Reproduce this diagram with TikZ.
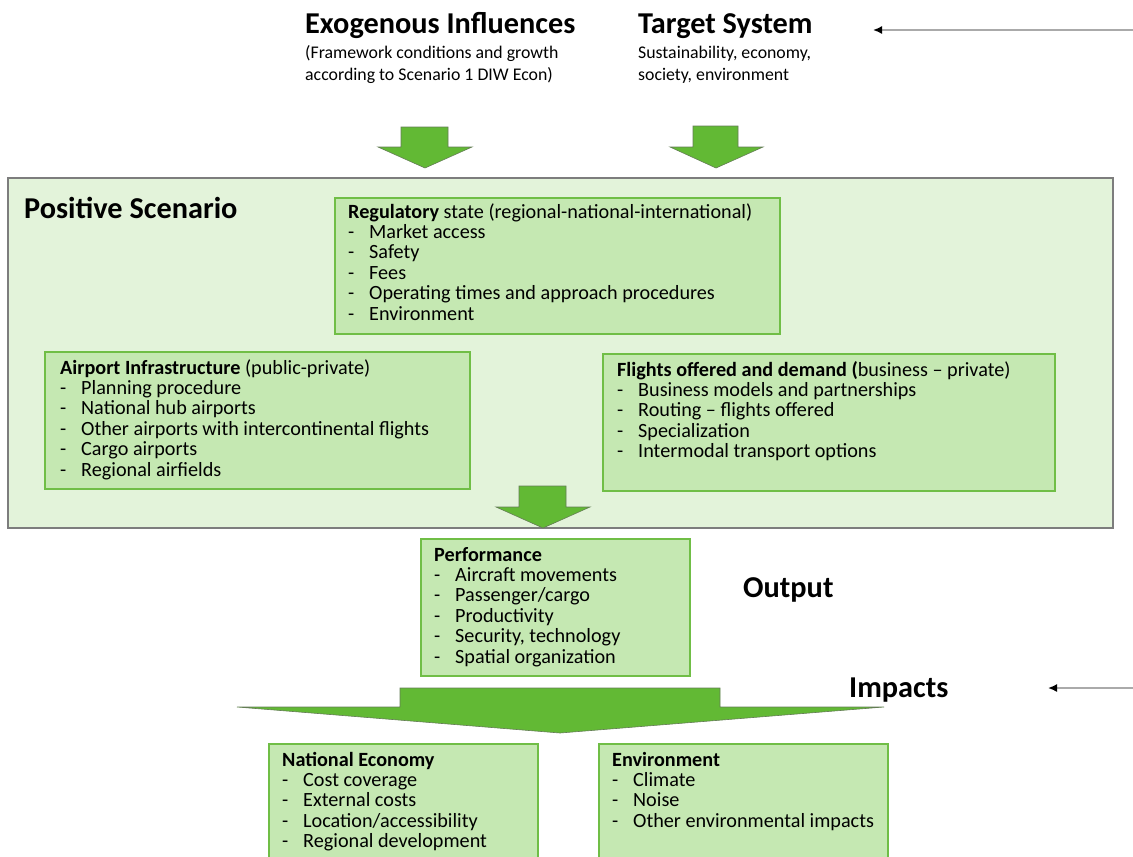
\documentclass[tikz,border=0pt]{standalone}
\usepackage{fontspec}
\setmainfont{Carlito}
\usetikzlibrary{arrows.meta}
\definecolor{boxfill}{RGB}{197,232,178}
\definecolor{boxline}{RGB}{112,190,70}
\definecolor{bigfill}{RGB}{227,243,218}
\definecolor{bigline}{RGB}{125,125,125}
\definecolor{arrfill}{RGB}{98,185,52}
\definecolor{arrline}{RGB}{100,125,85}
\definecolor{thinline}{RGB}{170,170,170}
\newcommand{\dsh}{\makebox[21pt][l]{-}}
\begin{document}
\begin{tikzpicture}[x=1pt,y=-1pt,
  gbox/.style={draw=boxline,fill=boxfill,line width=2.4pt,anchor=north west,inner sep=0pt,outer sep=0pt},
  bigbox/.style={draw=bigline,fill=bigfill,line width=1.2pt,anchor=north west,inner sep=0pt,outer sep=0pt},
  body/.style={anchor=base west,inner sep=0pt,align=left,font=\fontsize{20.2}{20.4}\selectfont},
  title/.style={anchor=base west,inner sep=0pt,font=\fontsize{30.3}{32}\selectfont\bfseries},
  sub/.style={anchor=base west,inner sep=0pt,align=left,font=\fontsize{17.8}{22}\selectfont},
  blockarrow/.style={fill=arrfill,draw=arrline,line width=0.6pt,line join=miter},
  thinarrow/.style={draw=thinline,line width=1.6pt,-{Latex[black,length=9pt,width=8pt]}}
]
\clip (0,0) rectangle (1133,857);
\fill[white] (0,0) rectangle (1133,857);

% header texts (base anchor = baseline of last line)
\node[title] (exo) at (305,33) {Exogenous Influences};
\node[sub] (exosub) at (305,80) {(Framework conditions and growth\\according to Scenario 1 DIW Econ)};
\node[title] (tgt) at (638,33) {Target System};
\node[sub] (tgtsub) at (638,80) {Sustainability, economy,\\society, environment};

\coordinate (a1s) at (1133,30);
\coordinate (a1e) at (873,30);
\draw[thinarrow] (a1s) -- (a1e);

% top block arrows
\draw[blockarrow] (401,127) -- (448,127) -- (448,147) -- (472,147) -- (425,168) -- (378,147) -- (401,147) -- cycle;
\draw[blockarrow] (693,126) -- (738,126) -- (738,147) -- (763,147) -- (716,168) -- (670,147) -- (693,147) -- cycle;

% big box
\node[bigbox,minimum width=1105,minimum height=350] (pos) at (8,178) {};
\node[title] (posT) at (24,218) {Positive Scenario};

% regulatory
\node[gbox,minimum width=445,minimum height=136] (reg) at (335,198) {};
\node[body] (regT) at (348,320) {\textbf{Regulatory} state (regional-national-international)\\\dsh Market access\\\dsh Safety\\\dsh Fees\\\dsh Operating times and approach procedures\\\dsh Environment};

% airport
\node[gbox,minimum width=425,minimum height=137] (air) at (45,352) {};
\node[body] (airT) at (60,476) {\textbf{Airport Infrastructure} (public-private)\\\dsh Planning procedure\\\dsh National hub airports\\\dsh Other airports with intercontinental flights\\\dsh Cargo airports\\\dsh Regional airfields};

% flights
\node[gbox,minimum width=452,minimum height=137] (fly) at (603,354) {};
\node[body] (flyT) at (617,457.6) {\textbf{Flights offered and demand (}business -- private)\\\dsh Business models and partnerships\\\dsh Routing -- flights offered\\\dsh Specialization\\\dsh Intermodal transport options};

% middle arrow
\draw[blockarrow] (519,486) -- (566,486) -- (566,507) -- (590,507) -- (543,528) -- (496,507) -- (519,507) -- cycle;

% performance
\node[gbox,minimum width=269,minimum height=137] (perf) at (421,539) {};
\node[body] (perfT) at (434,663) {\textbf{Performance}\\\dsh Aircraft movements\\\dsh Passenger/cargo\\\dsh Productivity\\\dsh Security, technology\\\dsh Spatial organization};

\node[title] (out) at (743,597) {Output};
\node[title] (imp) at (849,697) {Impacts};
\coordinate (a2s) at (1133,688);
\coordinate (a2e) at (1048,688);
\draw[thinarrow] (a2s) -- (a2e);

% big arrow
\draw[blockarrow] (400,688) -- (720,688) -- (720,707) -- (884,707) -- (560,733) -- (237,707) -- (400,707) -- cycle;

% bottom boxes
\node[gbox,minimum width=269,minimum height=140] (eco) at (269,744) {};
\node[body] (ecoT) at (282,847.6) {\textbf{National Economy}\\\dsh Cost coverage\\\dsh External costs\\\dsh Location/accessibility\\\dsh Regional development};
\node[gbox,minimum width=289,minimum height=140] (env) at (599,744) {};
\node[body] (envT) at (612,827.2) {\textbf{Environment}\\\dsh Climate\\\dsh Noise\\\dsh Other environmental impacts};
\end{tikzpicture}
\end{document}
